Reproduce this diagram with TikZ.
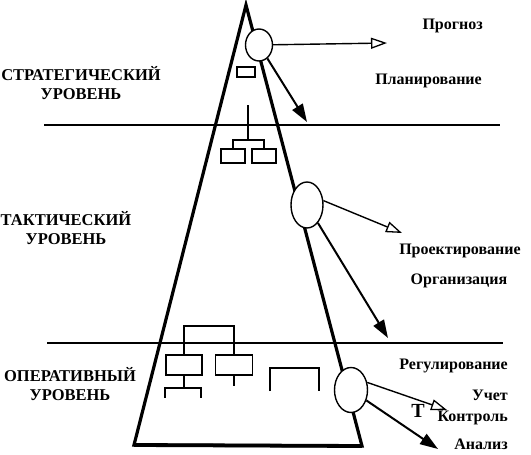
\documentclass[tikz,border=0pt]{standalone}
\usepackage{fontspec}
\setmainfont{Liberation Serif}
\usepackage{tikz}
\usetikzlibrary{shapes.geometric,arrows.meta}
\tikzset{>=stealth,
  oval/.style={draw,ellipse,fill=white,line width=1.4pt,inner sep=0pt},
  box/.style={draw,line width=1.7pt,inner sep=0pt},
  lbl/.style={inner sep=0pt,font=\fontsize{16}{19}\selectfont\bfseries},
  lvl/.style={inner sep=0pt,align=center,font=\fontsize{16.5}{19.5}\selectfont\bfseries},
  opn/.style={-{Triangle[open,length=16pt,width=11pt,line width=1.3pt]},line width=1.4pt},
  sld/.style={-{Triangle[length=18pt,width=12pt]},line width=2pt}}

\begin{document}
\begin{tikzpicture}[x=1pt,y=-1pt]
\useasboundingbox (0,0) rectangle (531,455);
% levels
\coordinate (h1a) at (44,125); \coordinate (h1b) at (500,125);
\coordinate (h2a) at (47,343); \coordinate (h2b) at (503,343);
\draw[line width=1.8pt] (h1a) -- (h1b);
\draw[line width=1.8pt] (h2a) -- (h2b);
% pyramid
\coordinate (top) at (246,5);
\coordinate (bl) at (134,445);
\coordinate (br) at (362,446);
\draw[line width=3.2pt] (br) -- (top) -- (bl) -- (br) -- cycle;
\draw[line width=3.8pt] (bl) -- (br);
% structure inside
\node[box,minimum width=18pt,minimum height=10pt] (s0) at (246,72) {};
\coordinate (m0) at (248,105);
\node[box,minimum width=24pt,minimum height=14pt] (r1) at (233,156) {};
\node[box,minimum width=24pt,minimum height=14pt] (r2) at (264,156) {};
\draw[line width=1.6pt] (m0) -- ++(0,35) coordinate (m1);
\draw[line width=1.6pt] (r1.north) |- (m1) -| (r2.north);
\node[box,minimum width=36pt,minimum height=20pt] (q1) at (184,365) {};
\node[box,minimum width=37pt,minimum height=20pt] (q2) at (234,365) {};
\draw[line width=1.7pt] (q1.north) -- ++(0,-28) -| (q2.north);
\draw[line width=1.7pt] (q1.south) -- ++(0,12);
\draw[line width=1.7pt] (q1.south west) ++(0,22) -- ++(0,-10) -| ++(36,10);
\draw[line width=1.7pt] (q2.south) -- ++(0,10);
\draw[line width=1.7pt] (270,391) |- (319,368) -- (319,391);
% ovals
\node[oval,minimum width=27pt,minimum height=32pt] (e1) at (259,45) {};
\node[oval,minimum width=32pt,minimum height=46pt] (e2) at (307,205) {};
\node[oval,minimum width=33pt,minimum height=45pt] (e3) at (351,390) {};
\coordinate (p1) at (387,43); \coordinate (p2) at (307,122);
\coordinate (p3) at (402,233); \coordinate (p4) at (388,338);
\coordinate (p5) at (447,410); \coordinate (p6) at (438,449);
\draw[opn] (e1) -- (p1);
\draw[sld] (e1) -- (p2);
\draw[opn] (e2.15) -- (p3);
\draw[sld] (e2) -- (p4);
\draw[opn] (e3.25) -- (p5);
\draw[sld] (e3) -- (p6);
% labels
\node[lvl] (strat) at (81,83) {СТРАТЕГИЧЕСКИЙ\\УРОВЕНЬ};
\node[lvl] (takt) at (66,228) {ТАКТИЧЕСКИЙ\\УРОВЕНЬ};
\node[lvl] (oper) at (70,384) {ОПЕРАТИВНЫЙ\\УРОВЕНЬ};
\node[lbl,anchor=base east] (prog) at (483,29) {Прогноз};
\node[lbl,anchor=base east] (plan) at (482,84) {Планирование};
\node[lbl,anchor=base] (proj) at (460,254) {Проектирование};
\node[lbl,anchor=base] (org) at (459,284) {Организация};
\node[lbl,anchor=base east] (reg) at (508,369) {Регулирование};
\node[lbl,anchor=base east] (uch) at (508,400) {Учет};
\node[lbl,anchor=base east] (kont) at (508,421) {Контроль};
\node[lbl,anchor=base east] (anal) at (508,449) {Анализ};
\node[inner sep=0pt,font=\fontsize{20}{20}\selectfont\bfseries] (tt) at (418,411) {Т};
\end{tikzpicture}
\end{document}
